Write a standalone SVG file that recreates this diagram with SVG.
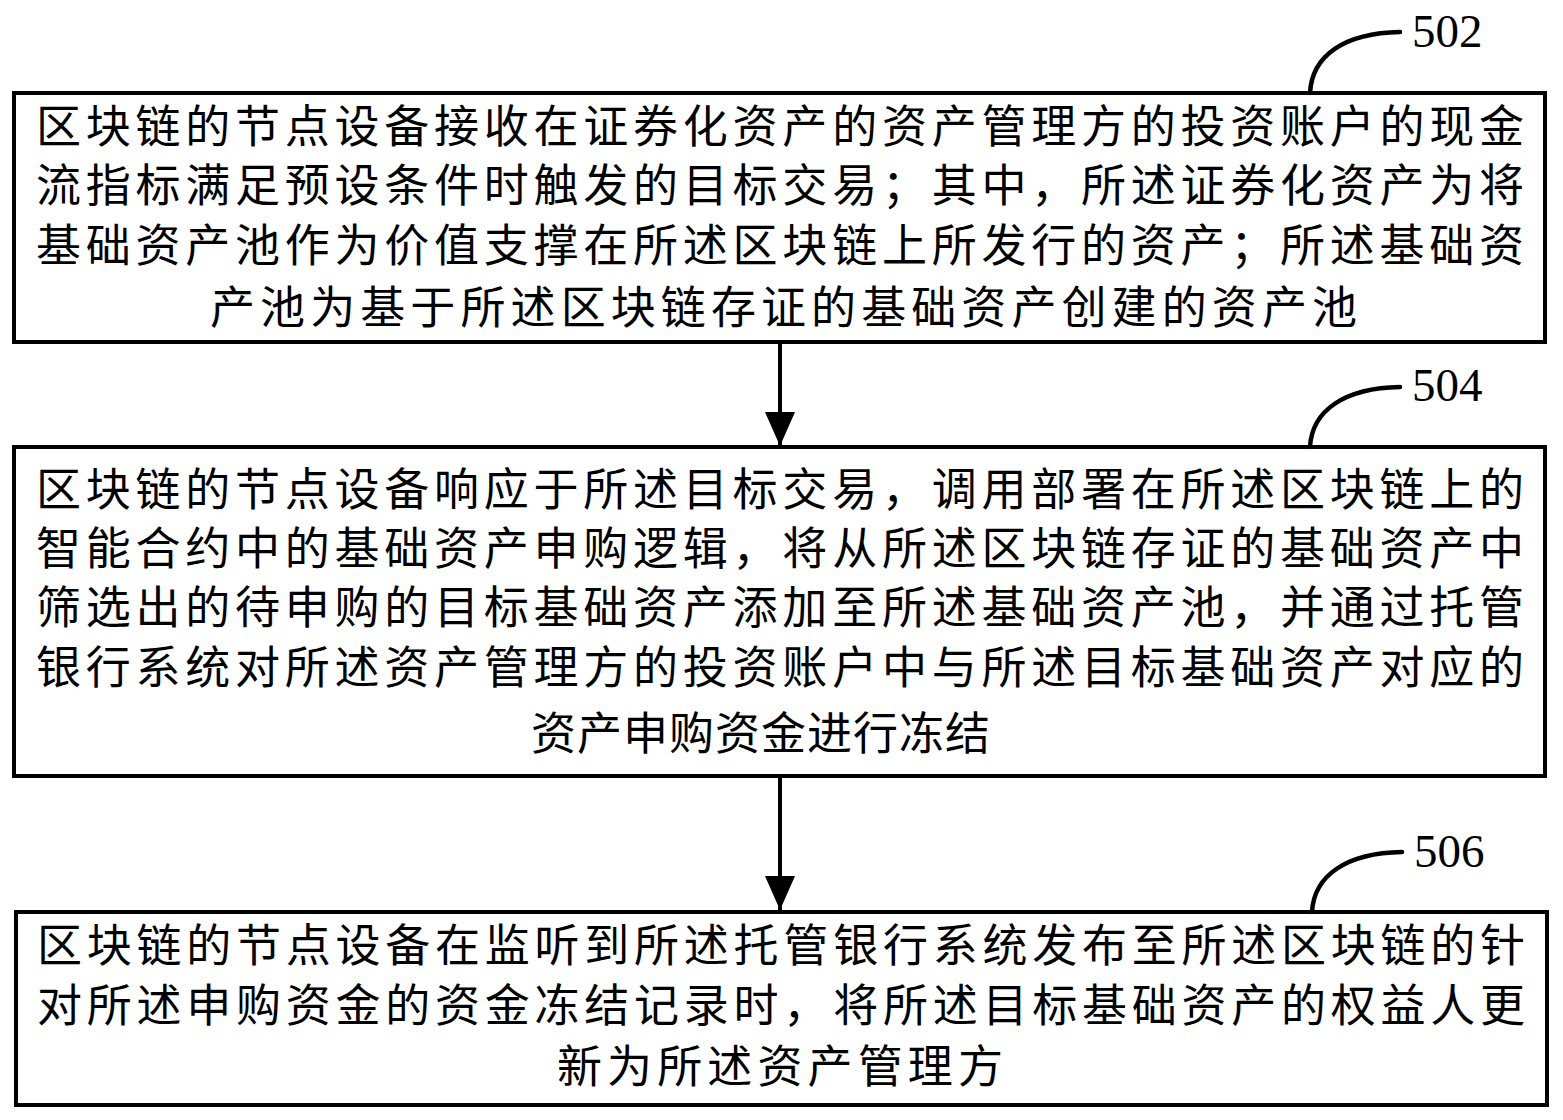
<svg xmlns="http://www.w3.org/2000/svg" width="1563" height="1120" viewBox="0 0 1563 1120">
<style>
.box{fill:#fff;stroke:#000;stroke-width:4}
.t{font-family:"Noto Sans CJK SC","Liberation Serif",serif;font-size:45px;fill:#000;dominant-baseline:central}
.lbl{font-family:"Liberation Serif",serif;font-size:47px;fill:#000}
.lead{fill:none;stroke:#000;stroke-width:4.5;stroke-linecap:round}
.conn{fill:none;stroke:#000;stroke-width:4}
</style>
<defs>
<marker id="ah" viewBox="0 0 34 30" refX="34" refY="15" markerWidth="34" markerHeight="30" markerUnits="userSpaceOnUse" orient="auto">
<path d="M0,0 L34,15 L0,30 z" fill="#000"/>
</marker>
</defs>
<rect width="1563" height="1120" fill="#fff"/>
<g id="connectors">
<line class="conn" x1="780" y1="342" x2="780" y2="446" marker-end="url(#ah)"/>
<line class="conn" x1="780" y1="776" x2="780" y2="910" marker-end="url(#ah)"/>
</g>
<g id="node502">
<rect class="box" x="14" y="93" width="1531" height="249"/>
<text class="t" x="36" y="123" textLength="1488" lengthAdjust="spacing">区块链的节点设备接收在证券化资产的资产管理方的投资账户的现金</text>
<text class="t" x="36" y="182" textLength="1488" lengthAdjust="spacing">流指标满足预设条件时触发的目标交易；其中，所述证券化资产为将</text>
<text class="t" x="36" y="242" textLength="1488" lengthAdjust="spacing">基础资产池作为价值支撑在所述区块链上所发行的资产；所述基础资</text>
<text class="t" x="210" y="304" textLength="1147" lengthAdjust="spacing">产池为基于所述区块链存证的基础资产创建的资产池</text>
<path class="lead" d="M1310,93 C1312,55 1345,33 1400,32"/>
<text class="lbl" x="1412" y="47">502</text>
</g>
<g id="node504">
<rect class="box" x="14" y="447" width="1531" height="329"/>
<text class="t" x="36" y="486" textLength="1488" lengthAdjust="spacing">区块链的节点设备响应于所述目标交易，调用部署在所述区块链上的</text>
<text class="t" x="36" y="545" textLength="1488" lengthAdjust="spacing">智能合约中的基础资产申购逻辑，将从所述区块链存证的基础资产中</text>
<text class="t" x="36" y="604" textLength="1488" lengthAdjust="spacing">筛选出的待申购的目标基础资产添加至所述基础资产池，并通过托管</text>
<text class="t" x="36" y="664" textLength="1488" lengthAdjust="spacing">银行系统对所述资产管理方的投资账户中与所述目标基础资产对应的</text>
<text class="t" x="531" y="730" textLength="459" lengthAdjust="spacing">资产申购资金进行冻结</text>
<path class="lead" d="M1310,447 C1312,410 1345,388 1400,387"/>
<text class="lbl" x="1412" y="401">504</text>
</g>
<g id="node506">
<rect class="box" x="16" y="912" width="1531" height="193"/>
<text class="t" x="37" y="942" textLength="1488" lengthAdjust="spacing">区块链的节点设备在监听到所述托管银行系统发布至所述区块链的针</text>
<text class="t" x="37" y="1002" textLength="1488" lengthAdjust="spacing">对所述申购资金的资金冻结记录时，将所述目标基础资产的权益人更</text>
<text class="t" x="557" y="1063" textLength="446" lengthAdjust="spacing">新为所述资产管理方</text>
<path class="lead" d="M1312,912 C1314,875 1347,853 1402,852"/>
<text class="lbl" x="1414" y="867">506</text>
</g>
</svg>
